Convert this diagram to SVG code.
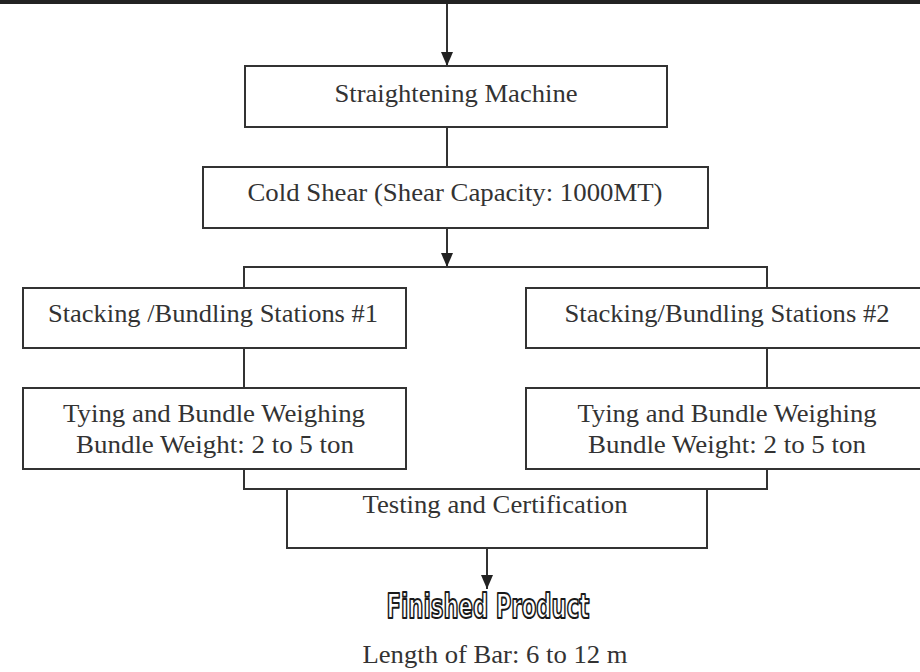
<svg xmlns="http://www.w3.org/2000/svg" width="920" height="672" viewBox="0 0 920 672">
<defs>
<style>
.box{fill:#fff;stroke:#333;stroke-width:2}
.ln{fill:none;stroke:#333;stroke-width:2}
.t{font-family:"Liberation Serif","Times New Roman",serif;font-size:25px;fill:#333;text-anchor:middle}
.fp{font-family:"DejaVu Sans Condensed","Liberation Sans Narrow","Liberation Sans",sans-serif;font-weight:bold;font-size:34px;fill:#fff;stroke:#1a1a1a;stroke-width:2;stroke-linejoin:round;text-anchor:middle}
</style>
<marker id="ah" markerWidth="14" markerHeight="12" refX="14" refY="6" orient="auto" markerUnits="userSpaceOnUse">
<path d="M0,0 L14,6 L0,12 Z" fill="#222"/>
</marker>
</defs>
<rect width="920" height="672" fill="#fff"/>
<rect x="0" y="0" width="920" height="4" fill="#222"/>
<g id="connectors">
<path class="ln" d="M447,4 V66" marker-end="url(#ah)"/>
<path class="ln" d="M447,127 V167"/>
<path class="ln" d="M447,228 V267" marker-end="url(#ah)"/>
<path class="ln" d="M244,288 V267 H767 V288"/>
<path class="ln" d="M244,348 V388"/>
<path class="ln" d="M767,348 V388"/>
<path class="ln" d="M244,469 V489 H767 V469"/>
<path class="ln" d="M487,548 V589" marker-end="url(#ah)"/>
</g>
<g id="straightening">
<rect class="box" x="245" y="66" width="422" height="61"/>
<text class="t" x="456" y="102" textLength="243" lengthAdjust="spacingAndGlyphs">Straightening Machine</text>
</g>
<g id="coldshear">
<rect class="box" x="203" y="167" width="505" height="61"/>
<text class="t" x="455" y="201" textLength="415" lengthAdjust="spacingAndGlyphs">Cold Shear (Shear Capacity: 1000MT)</text>
</g>
<g id="stacking1">
<rect class="box" x="23" y="288" width="383" height="60"/>
<text class="t" x="213" y="322" textLength="330" lengthAdjust="spacingAndGlyphs">Stacking /Bundling Stations #1</text>
</g>
<g id="stacking2">
<rect class="box" x="526" y="288" width="404" height="60"/>
<text class="t" x="727" y="322" textLength="325" lengthAdjust="spacingAndGlyphs">Stacking/Bundling Stations #2</text>
</g>
<g id="tying1">
<rect class="box" x="23" y="388" width="383" height="81"/>
<text class="t" x="214" y="422" textLength="302" lengthAdjust="spacingAndGlyphs">Tying and Bundle Weighing</text>
<text class="t" x="215" y="453" textLength="278" lengthAdjust="spacingAndGlyphs">Bundle Weight: 2 to 5 ton</text>
</g>
<g id="tying2">
<rect class="box" x="526" y="388" width="404" height="81"/>
<text class="t" x="727" y="422" textLength="299" lengthAdjust="spacingAndGlyphs">Tying and Bundle Weighing</text>
<text class="t" x="727" y="453" textLength="278" lengthAdjust="spacingAndGlyphs">Bundle Weight: 2 to 5 ton</text>
</g>
<g id="testing">
<rect class="box" x="287" y="489" width="420" height="59"/>
<text class="t" x="495" y="513" textLength="265" lengthAdjust="spacingAndGlyphs">Testing and Certification</text>
</g>
<g id="finished">
<text class="fp" x="488" y="618" textLength="203" lengthAdjust="spacingAndGlyphs">Finished Product</text>
<text class="t" x="495" y="663" textLength="265" lengthAdjust="spacingAndGlyphs">Length of Bar: 6 to 12 m</text>
</g>
</svg>
